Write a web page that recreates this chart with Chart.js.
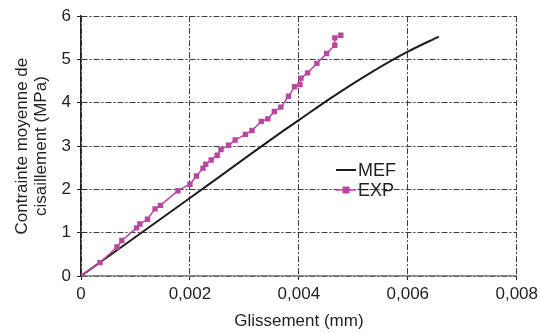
<!DOCTYPE html>
<html>
<head>
<meta charset="utf-8">
<script src="https://cdn.jsdelivr.net/npm/chart.js@4/dist/chart.umd.min.js"></script>
<style>
  html, body { margin: 0; padding: 0; background: #fff; }
  #wrap { width: 542px; height: 333px; position: relative; }
</style>
</head>
<body>
<div id="wrap"><canvas id="c" width="542" height="333"></canvas></div>
<script>
// ---- Data ----
const seriesNames = ['MEF', 'EXP'];
const mefX = [0, 0.001, 0.002, 0.003, 0.0037, 0.004, 0.0046, 0.0053, 0.006, 0.00657];
const mefY = [0, 0.90, 1.80, 2.71, 3.34, 3.60, 4.12, 4.68, 5.18, 5.53];
const expX = [0, 0.00035, 0.00066, 0.00075, 0.00102, 0.00108, 0.00122, 0.00136, 0.00146, 0.00178,
              0.00200, 0.00212, 0.00224, 0.00229, 0.00239, 0.00250, 0.00257, 0.00271, 0.00283, 0.00302,
              0.00314, 0.00331, 0.00343, 0.00355, 0.00367, 0.00381, 0.00392, 0.00402, 0.00404, 0.00416,
              0.00433, 0.00451, 0.00466, 0.00466, 0.00477];
const expY = [0, 0.31, 0.67, 0.82, 1.11, 1.20, 1.31, 1.55, 1.63, 1.97,
              2.12, 2.31, 2.49, 2.58, 2.68, 2.79, 2.92, 3.02, 3.14, 3.27,
              3.36, 3.57, 3.63, 3.80, 3.90, 4.15, 4.37, 4.42, 4.57, 4.69,
              4.91, 5.14, 5.33, 5.50, 5.56];
const xTicks = [0, 0.002, 0.004, 0.006, 0.008];
const yTicks = [0, 1, 2, 3, 4, 5, 6];
const xTitle = 'Glissement (mm)';
const yTitle = ['Contrainte moyenne de', 'cisaillement (MPa)'];

// ---- Styles ----
const FONT = 'Liberation Sans, Arial, Helvetica, sans-serif';
const TXT = '#231f20';
const MEF_COLOR = '#1e1c1c';
const EXP_COLOR = '#b8489f';

const toPts = (xs, ys) => xs.map((x, i) => ({x: x, y: ys[i]}));

const legendPlugin = {
  id: 'customLegend',
  afterDraw(chart) {
    const ctx = chart.ctx;
    const items = [
      {name: seriesNames[0], color: MEF_COLOR, width: 2, marker: false, y: 170},
      {name: seriesNames[1], color: EXP_COLOR, width: 1.5, marker: true, y: 190}
    ];
    ctx.save();
    items.forEach(it => {
      ctx.strokeStyle = it.color;
      ctx.lineWidth = it.width;
      ctx.beginPath();
      ctx.moveTo(336, it.y);
      ctx.lineTo(356, it.y);
      ctx.stroke();
      if (it.marker) {
        ctx.fillStyle = it.color;
        ctx.fillRect(342.5, it.y - 3.5, 7, 7);
      }
      ctx.fillStyle = TXT;
      ctx.font = '18px ' + FONT;
      ctx.textBaseline = 'middle';
      ctx.textAlign = 'left';
      ctx.fillText(it.name, 358, it.y + 1);
    });
    ctx.restore();
  }
};

new Chart(document.getElementById('c'), {
  type: 'scatter',
  data: {
    datasets: [
      {
        label: seriesNames[0],
        data: toPts(mefX, mefY),
        showLine: true,
        borderColor: MEF_COLOR,
        borderWidth: 2,
        pointRadius: 0,
        cubicInterpolationMode: 'monotone',
        order: 2
      },
      {
        label: seriesNames[1],
        data: toPts(expX, expY),
        showLine: true,
        borderColor: EXP_COLOR,
        backgroundColor: EXP_COLOR,
        borderWidth: 1.5,
        pointStyle: 'rect',
        pointRadius: 3.8,
        pointBorderWidth: 0,
        order: 1
      }
    ]
  },
  options: {
    responsive: false,
    animation: false,
    devicePixelRatio: 1,
    layout: { padding: { left: 0, right: 24, top: 14, bottom: 0 } },
    plugins: { legend: { display: false }, tooltip: { enabled: false } },
    scales: {
      x: {
        type: 'linear',
        min: 0, max: 0.008,
        afterBuildTicks: s => { s.ticks = xTicks.map(v => ({value: v})); },
        afterFit: s => { s.height = 57; },
        ticks: {
          color: TXT, font: { family: FONT, size: 17 }, padding: 4,
          maxRotation: 0,
          callback: v => v === 0 ? '0' : v.toFixed(3).replace('.', ',')
        },
        grid: { color: '#3a3a3a', lineWidth: 1, tickLength: 4, tickColor: '#222', tickBorderDash: [] },
        border: { display: true, color: '#8a8a8a', width: 1.5, dash: [6, 2, 2, 2] },
        title: { display: true, text: xTitle, color: TXT, font: { family: FONT, size: 17 }, padding: { top: 0, bottom: 1 } }
      },
      y: {
        type: 'linear',
        min: 0, max: 6,
        afterBuildTicks: s => { s.ticks = yTicks.map(v => ({value: v})); },
        afterFit: s => { s.width = 81; },
        ticks: { color: TXT, font: { family: FONT, size: 17 }, padding: 6 },
        grid: { color: '#3a3a3a', lineWidth: 1, tickLength: 4, tickColor: '#222', tickBorderDash: [] },
        border: { display: true, color: '#222', width: 1.5, dash: [6, 2, 2, 2] },
        title: { display: true, text: yTitle, color: TXT, font: { family: FONT, size: 17, lineHeight: 1.1 }, padding: { top: 13, bottom: 0 } }
      }
    }
  },
  plugins: [legendPlugin]
});
</script>
</body>
</html>
